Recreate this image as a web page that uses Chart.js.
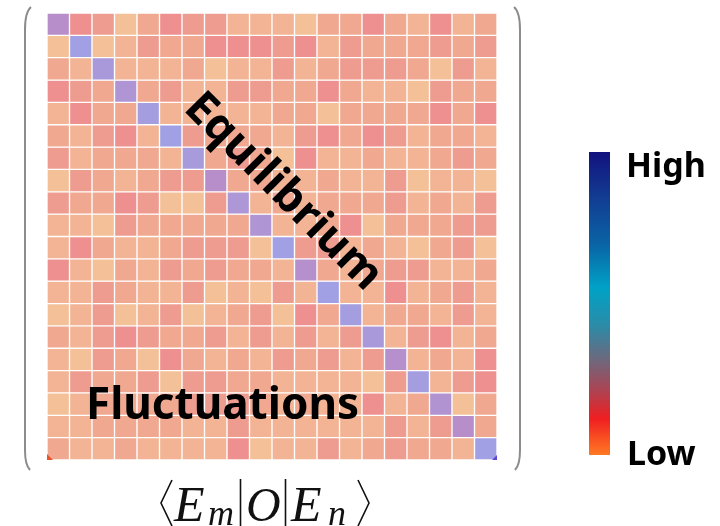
<!DOCTYPE html>
<html>
<head>
<meta charset="utf-8">
<script src="https://cdn.jsdelivr.net/npm/chart.js@4.4.1/dist/chart.umd.min.js"></script>
<style>
  body { margin: 0; background: #fff; }
  #matrix { display: block; }
</style>
</head>
<body>
<canvas id="matrix" width="720" height="526"></canvas>
<script>
// matrix element amplitudes |<E_m|O|E_n>|, row m = 0..19 (top to bottom), column n = 0..19
const rowIdx = Array.from({ length: 20 }, (_, i) => i);
const colIdx = Array.from({ length: 20 }, (_, i) => i);
const amplitudes = [
  [.80,.18,.14,.02,.10,.18,.14,.14,.06,.06,.06,.02,.10,.10,.18,.10,.06,.18,.06,.10],
  [.02,1.0,.02,.06,.14,.10,.10,.18,.18,.18,.14,.18,.06,.14,.10,.10,.10,.14,.10,.14],
  [.10,.06,.92,.06,.06,.06,.10,.02,.06,.06,.14,.06,.10,.14,.14,.14,.10,.02,.14,.06],
  [.18,.14,.10,.88,.10,.14,.06,.06,.14,.14,.10,.10,.18,.10,.06,.06,.02,.14,.10,.10],
  [.06,.18,.10,.10,.98,.06,.06,.06,.06,.06,.10,.10,.02,.10,.10,.10,.10,.18,.10,.18],
  [.10,.06,.14,.18,.06,1.0,.14,.10,.10,.10,.06,.14,.18,.10,.18,.14,.06,.10,.10,.06],
  [.14,.06,.10,.10,.10,.06,.94,.10,.14,.10,.02,.18,.06,.06,.10,.06,.06,.10,.14,.10],
  [.02,.14,.10,.06,.10,.14,.14,.80,.10,.10,.06,.06,.10,.06,.06,.14,.02,.06,.06,.02],
  [.14,.10,.10,.18,.14,.02,.02,.14,.90,.06,.10,.06,.10,.10,.10,.14,.06,.10,.06,.14],
  [.06,.06,.02,.14,.10,.10,.10,.10,.10,.88,.06,.06,.10,.18,.02,.10,.10,.10,.14,.14],
  [.06,.18,.10,.06,.06,.10,.14,.14,.14,.02,1.0,.14,.14,.06,.10,.06,.02,.10,.14,.02],
  [.18,.06,.02,.10,.06,.14,.10,.14,.10,.10,.06,.82,.10,.06,.10,.14,.14,.06,.06,.10],
  [.06,.06,.14,.10,.06,.06,.14,.02,.06,.02,.14,.06,1.0,.06,.06,.18,.06,.10,.14,.06],
  [.02,.06,.14,.02,.06,.14,.02,.06,.10,.14,.02,.18,.10,.98,.06,.10,.10,.06,.14,.06],
  [.10,.06,.14,.18,.14,.10,.10,.14,.06,.14,.06,.14,.06,.14,.92,.06,.14,.18,.06,.10],
  [.06,.02,.14,.10,.02,.18,.10,.06,.10,.06,.14,.10,.14,.06,.14,.82,.06,.10,.06,.18],
  [.06,.14,.10,.10,.14,.02,.14,.14,.10,.10,.06,.06,.06,.06,.02,.14,.98,.06,.14,.18],
  [.02,.06,.10,.10,.10,.10,.14,.14,.14,.10,.06,.10,.06,.06,.18,.06,.10,.86,.02,.10],
  [.06,.06,.10,.10,.10,.10,.06,.06,.14,.06,.06,.06,.06,.06,.06,.14,.06,.14,.80,.10],
  [.10,.06,.06,.10,.06,.06,.06,.06,.18,.02,.06,.06,.14,.06,.10,.14,.10,.10,.06,1.0]
];
const barLabels = ['High', 'Low'];

// washed-out colour scale used for the cells
const cellStops = [
  [0.02, [243, 192, 152]],
  [0.06, [242, 180, 148]],
  [0.10, [240, 168, 145]],
  [0.14, [239, 156, 144]],
  [0.18, [238, 144, 143]],
  [0.80, [183, 142, 202]],
  [1.00, [162, 160, 228]]
];

function cellColor(v) {
  if (v <= cellStops[0][0]) return 'rgb(' + cellStops[0][1].join(',') + ')';
  for (let i = 1; i < cellStops.length; i++) {
    const [v1, c1] = cellStops[i];
    const [v0, c0] = cellStops[i - 1];
    if (v <= v1) {
      const t = (v - v0) / (v1 - v0);
      const c = c0.map((a, k) => Math.round(a + (c1[k] - a) * t));
      return 'rgb(' + c.join(',') + ')';
    }
  }
  return 'rgb(' + cellStops[cellStops.length - 1][1].join(',') + ')';
}

// everything that is not a cell: brackets, colour bar, annotations
const decorations = {
  id: 'decorations',
  afterDraw(chart) {
    const ctx = chart.ctx;
    const area = chart.chartArea;
    ctx.save();

    // little corner marks of the original figure
    ctx.fillStyle = '#e8532a';
    ctx.beginPath();
    ctx.moveTo(area.left, area.bottom);
    ctx.lineTo(area.left, area.bottom - 6);
    ctx.lineTo(area.left + 6, area.bottom);
    ctx.fill();
    ctx.fillStyle = '#5a48d0';
    ctx.beginPath();
    ctx.moveTo(area.right, area.bottom);
    ctx.lineTo(area.right, area.bottom - 5);
    ctx.lineTo(area.right - 5, area.bottom);
    ctx.fill();

    // matrix brackets
    ctx.strokeStyle = '#8c8c8c';
    ctx.lineWidth = 2;
    ctx.beginPath();
    ctx.moveTo(31, 7);
    ctx.quadraticCurveTo(25, 12, 25, 30);
    ctx.lineTo(25, 450);
    ctx.quadraticCurveTo(25, 465, 30, 470);
    ctx.stroke();
    ctx.beginPath();
    ctx.moveTo(514, 7);
    ctx.quadraticCurveTo(520, 12, 520, 30);
    ctx.lineTo(520, 450);
    ctx.quadraticCurveTo(520, 465, 515, 470);
    ctx.stroke();

    // colour bar
    const grad = ctx.createLinearGradient(0, 152, 0, 455);
    grad.addColorStop(0.00, '#12127e');
    grad.addColorStop(0.15, '#123c92');
    grad.addColorStop(0.30, '#0a62a4');
    grad.addColorStop(0.45, '#00a2c6');
    grad.addColorStop(0.57, '#2a8ca8');
    grad.addColorStop(0.68, '#6a6a80');
    grad.addColorStop(0.78, '#a84656');
    grad.addColorStop(0.88, '#f01e22');
    grad.addColorStop(1.00, '#ff7a22');
    ctx.fillStyle = grad;
    ctx.fillRect(589, 152, 21, 303);

    ctx.fillStyle = '#000';
    ctx.textAlign = 'left';
    ctx.textBaseline = 'alphabetic';
    ctx.font = 'bold 34px "Noto Sans"';
    ctx.fillText(barLabels[0], 626, 177);
    ctx.fillText(barLabels[1], 627, 465);

    // annotations on the matrix
    ctx.font = 'bold 44px "Noto Sans"';
    ctx.fillText('Fluctuations', 86, 419);

    ctx.save();
    ctx.translate(283, 192);
    ctx.rotate(Math.PI / 4);
    ctx.textAlign = 'center';
    ctx.textBaseline = 'middle';
    ctx.font = 'bold 45px "Noto Sans"';
    ctx.fillText('Equilibrium', 0, 0);
    ctx.restore();

    // axis label  <E_m|O|E_n>
    const serif = '"Liberation Serif", "DejaVu Serif", serif';
    const base = 521;
    ctx.strokeStyle = '#111';
    ctx.lineWidth = 1.6;
    ctx.beginPath();
    ctx.moveTo(172, 480); ctx.lineTo(161, 503); ctx.lineTo(172, 526);
    ctx.moveTo(358, 480); ctx.lineTo(369, 503); ctx.lineTo(358, 526);
    ctx.moveTo(240.5, 479); ctx.lineTo(240.5, 526);
    ctx.moveTo(285.5, 479); ctx.lineTo(285.5, 526);
    ctx.stroke();

    ctx.fillStyle = '#111';
    ctx.font = 'italic 50px ' + serif;
    ctx.fillText('E', 174, base);
    ctx.fillText('E', 291, base);
    ctx.font = 'italic 48px ' + serif;
    ctx.fillText('O', 246, base);
    ctx.font = 'italic 36px ' + serif;
    ctx.fillText('m', 208, base + 4);
    ctx.fillText('n', 328, base + 4);

    ctx.restore();
  }
};

const datasets = rowIdx.map(r => ({
  label: 'row ' + r,
  data: colIdx.map(() => [r, r + 1]),
  backgroundColor: amplitudes[r].map(cellColor),
  borderColor: '#ffffff',
  borderWidth: 1,
  borderSkipped: false,
  categoryPercentage: 1,
  barPercentage: 1
}));

new Chart(document.getElementById('matrix'), {
  type: 'bar',
  data: { labels: colIdx.map(String), datasets: datasets },
  options: {
    responsive: false,
    animation: false,
    layout: { padding: { left: 47, right: 223, top: 13, bottom: 66 } },
    plugins: { legend: { display: false }, tooltip: { enabled: false } },
    scales: {
      x: { stacked: true, display: false },
      y: { reverse: true, min: 0, max: 20, display: false }
    }
  },
  plugins: [decorations]
});
</script>
</body>
</html>
